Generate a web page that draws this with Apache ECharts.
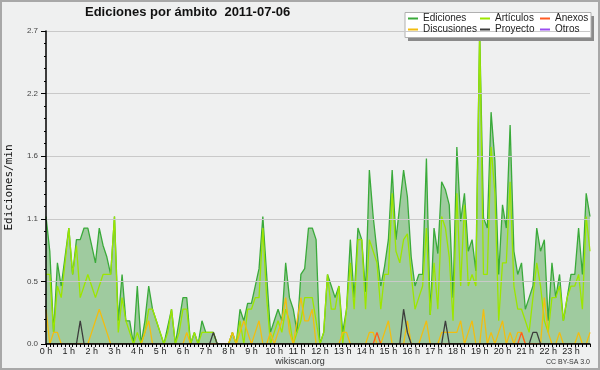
<!DOCTYPE html>
<html><head><meta charset="utf-8">
<script src="https://cdn.jsdelivr.net/npm/echarts@6/dist/echarts.min.js"></script>
<style>html,body{margin:0;padding:0;background:#eff0f0}#c{width:600px;height:370px}</style>
</head><body><div id="c"></div>
<script>
const hourLabels = ["0 h","1 h","2 h","3 h","4 h","5 h","6 h","7 h","8 h","9 h","10 h","11 h","12 h","13 h","14 h","15 h","16 h","17 h","18 h","19 h","20 h","21 h","22 h","23 h"];
const yTicks = [0, 0.54, 1.08, 1.62, 2.16, 2.7];

const ediciones = [
1.1,0.8,0.1,0.7,0.5,0.75,1.0,0.6,0.9,0.9,
1.0,1.0,0.85,0.7,1.0,0.85,0.75,0.6,1.1,0.2,
0.6,0.2,0.2,0.0,0.5,0.0,0.2,0.5,0.3,0.2,
0.1,0.0,0.15,0.3,0.0,0.2,0.4,0.4,0.0,0.1,
0.0,0.2,0.1,0.1,0.1,0.0,0,0,0,0.1,
0,0.3,0.2,0.35,0.35,0.5,0.65,1.1,0.6,0.1,
0.2,0.3,0.2,0.7,0.4,0.3,0.1,0.6,0.65,1.0,
1.0,0.9,0.0,0.1,0.6,0.5,0.4,0.5,0.1,0.3,
0.9,0.4,1.0,0.9,0.45,1.5,1.1,0.8,0.5,0.67,
0.9,1.5,0.9,1.2,1.5,1.27,0.75,0.5,0.6,0.6,
1.6,0.25,1.0,0.78,1.4,1.33,1.2,0.4,1.7,1.06,
1.3,0.8,0.9,0.63,2.7,1.09,1.0,2.0,1.58,0.6,
1.2,1.0,1.89,0.8,0.6,0.7,0.3,0.4,0.5,1.0,
0.8,0.9,0.2,0.7,0.4,0.6,0.2,0.4,0.6,0.6,
1.0,0.6,1.3,1.1];

const articulos = [
0.6,0.6,0.1,0.5,0.4,0.7,1.0,0.6,0.85,0.4,
0.5,0.6,0.5,0.4,0.5,0.6,0.6,0.6,1.1,0.1,
0.4,0.2,0.1,0.0,0.1,0.0,0.1,0.3,0.3,0.2,
0.1,0.0,0.1,0.3,0.0,0.1,0.3,0.3,0.0,0.1,
0.0,0.1,0.1,0.1,0.1,0.0,0,0,0,0.1,
0,0.2,0.0,0.3,0.3,0.4,0.4,1.0,0.4,0.0,
0.1,0.2,0.1,0.3,0.2,0.0,0.1,0.2,0.4,0.4,
0.4,0.2,0.0,0.1,0.6,0.3,0.3,0.5,0.0,0.3,
0.7,0.3,0.9,0.9,0.3,0.9,0.8,0.7,0.3,0.6,
0.6,1.3,0.8,0.7,0.9,0.95,0.6,0.3,0.4,0.5,
1.0,0.25,0.7,0.3,1.1,1.0,0.75,0.2,1.3,0.5,
1.2,0.5,0.6,0.5,2.7,0.6,0.6,1.7,1.3,0.2,
0.7,0.7,1.4,0.5,0.3,0.3,0.2,0.1,0.4,0.7,
0.5,0.2,0.1,0.4,0.4,0.5,0.2,0.4,0.5,0.5,
0.6,0.3,1.1,0.8];

const discusiones = [
0.3,0,0.1,0.1,0,0,0,0,0,0,
0,0,0.1,0.2,0.3,0.2,0.1,0,0,0,
0,0,0,0,0,0,0.1,0.2,0,0,
0,0,0,0,0,0,0,0.1,0,0,
0,0,0,0,0,0,0,0,0,0.1,
0,0.1,0.2,0.1,0,0.1,0.2,0,0,0.1,
0,0.1,0.2,0.4,0.1,0,0.2,0.4,0.2,0.2,
0.3,0,0,0,0,0,0,0,0.1,0.1,
0,0,0,0,0,0.1,0.1,0,0,0.1,
0.2,0,0,0,0,0.2,0,0,0,0.1,
0.2,0,0,0,0.1,0.1,0.1,0.1,0.1,0.2,
0,0.1,0.2,0,0,0.3,0,0.1,0,0.1,
0.2,0,0.1,0,0.1,0.1,0,0,0,0,
0,0.4,0.1,0,0,0.1,0,0,0,0,
0.1,0,0,0.1];

const proyecto = [
0,0,0,0,0,0,0,0,0,0.2,
0,0,0,0,0,0,0,0,0,0,
0,0,0,0,0,0,0,0,0,0,
0,0,0,0,0,0,0,0,0,0,
0,0,0,0,0.1,0,0,0,0,0,
0,0,0,0,0,0,0,0,0,0,
0,0,0,0,0,0,0,0,0,0,
0,0,0,0,0,0,0,0,0,0,
0,0,0,0,0,0,0,0,0,0,
0,0,0,0,0.3,0.1,0,0,0,0,
0,0,0,0,0,0.2,0,0,0,0,
0,0,0,0,0,0,0,0,0,0,
0,0,0,0,0,0,0,0,0.1,0.1,
0,0,0,0,0,0,0,0,0,0,
0,0,0,0];

const anexos = [
0,0,0,0,0,0,0,0,0,0,
0,0,0,0,0,0,0,0,0,0,
0,0,0,0,0,0,0,0,0,0,
0,0,0,0,0,0,0,0,0,0,
0,0,0,0,0,0,0,0,0,0,
0,0,0,0,0,0,0,0,0,0,
0,0,0,0,0,0,0,0,0,0,
0,0,0,0,0,0,0,0,0,0,
0,0,0,0,0,0,0,0.1,0,0,
0,0,0,0,0,0,0,0,0,0,
0,0,0,0,0,0,0,0,0,0,
0,0,0,0,0,0,0,0,0,0,
0,0,0,0,0,0.1,0,0,0,0,
0,0,0,0,0,0,0,0,0,0,
0,0,0,0];

const otros = new Array(ediciones.length).fill(0);

const categories = ediciones.map((_, i) => String(i));

const chart = echarts.init(document.getElementById('c'), null, {renderer: 'canvas'});

const colors = {
  Ediciones: '#3aaa3a',
  Artículos: '#9ce600',
  Discusiones: '#f2bd10',
  Proyecto: '#3c3c3c',
  Anexos: '#ff5a22',
  Otros: '#9a4ef0'
};
function lineSeries(name, data, z) {
  return {
    name: name, type: 'line', data: data, symbol: 'none', smooth: false,
    z: z, animation: false,
    lineStyle: {color: colors[name], width: 1.3},
    itemStyle: {color: colors[name]}
  };
}
const legendBase = {
  orient: 'vertical', top: 13, itemGap: 0, itemWidth: 10, itemHeight: 2, padding: 0,
  icon: 'rect', selectedMode: false, z: 20,
  textStyle: {fontFamily: 'Liberation Sans', fontSize: 10, color: '#222', lineHeight: 11, padding: [0,0,0,0]}
};

chart.setOption({
  backgroundColor: '#eff0f0',
  animation: false,
  title: {
    text: 'Ediciones por ámbito  2011-07-06', left: 85, top: 6, padding: 0,
    textStyle: {fontFamily: 'Liberation Sans', fontWeight: 'bold', fontSize: 13, color: '#111'}
  },
  legend: [
    Object.assign({}, legendBase, {left: 408, data: ['Ediciones', 'Discusiones']}),
    Object.assign({}, legendBase, {left: 480, data: ['Artículos', 'Proyecto']}),
    Object.assign({}, legendBase, {left: 540, data: ['Anexos', 'Otros']})
  ],
  grid: {left: 46, right: 10, top: 31, bottom: 26, containLabel: false, outerBoundsMode: 'none'},
  xAxis: {
    type: 'category', data: categories, boundaryGap: false, z: 10,
    axisLine: {lineStyle: {color: '#000', width: 1.5}},
    axisTick: {interval: 0, length: 3, lineStyle: {color: '#000'}},
    axisLabel: {
      interval: 5, margin: 3, fontFamily: 'Liberation Sans', fontSize: 9, color: '#222',
      formatter: (v, idx) => hourLabels[Math.round(idx / 6)]
    },
    splitLine: {show: false}
  },
  yAxis: {
    type: 'value', min: yTicks[0], max: yTicks[yTicks.length - 1], interval: yTicks[1], z: 10,
    name: 'Ediciones/min', nameLocation: 'middle', nameGap: 31, nameRotate: 90,
    nameTextStyle: {fontFamily: 'DejaVu Sans Mono', fontSize: 11, color: '#111'},
    axisLine: {show: true, lineStyle: {color: '#000', width: 1.5}},
    axisTick: {show: true, length: 5, lineStyle: {color: '#000'}},
    minorTick: {show: true, splitNumber: 5, length: 2, lineStyle: {color: '#000'}},
    axisLabel: {margin: 8, fontFamily: 'Liberation Sans', fontSize: 8, color: '#444',
      formatter: v => v.toFixed(1)},
    splitLine: {show: true, lineStyle: {color: '#c9c9c9', width: 1}}
  },
  graphic: [
    {type: 'rect', z: 5, shape: {x: 408, y: 16, width: 186, height: 25}, style: {fill: '#8a8a8a'}},
    {type: 'rect', z: 5, shape: {x: 405, y: 12.5, width: 186, height: 25}, style: {fill: '#ffffff', stroke: '#b0b0b0', lineWidth: 1}},
    {type: 'text', z: 5, left: 'center', top: 357, style: {text: 'wikiscan.org', font: '9px "Liberation Sans"', fill: '#333'}},
    {type: 'text', z: 5, right: 10, top: 359, style: {text: 'CC BY-SA 3.0', font: '7px "Liberation Sans"', fill: '#333'}},
    {type: 'rect', z: 5, shape: {x: 1, y: 1, width: 598, height: 368}, style: {fill: 'none', stroke: '#a8a8a8', lineWidth: 2}}
  ],
  series: [
    Object.assign(lineSeries('Ediciones', ediciones, 2), {areaStyle: {color: '#9fcb9f', opacity: 1}}),
    lineSeries('Artículos', articulos, 3),
    lineSeries('Discusiones', discusiones, 4),
    lineSeries('Anexos', anexos, 4),
    lineSeries('Proyecto', proyecto, 4),
    lineSeries('Otros', otros, 1)
  ]
});
</script></body></html>
